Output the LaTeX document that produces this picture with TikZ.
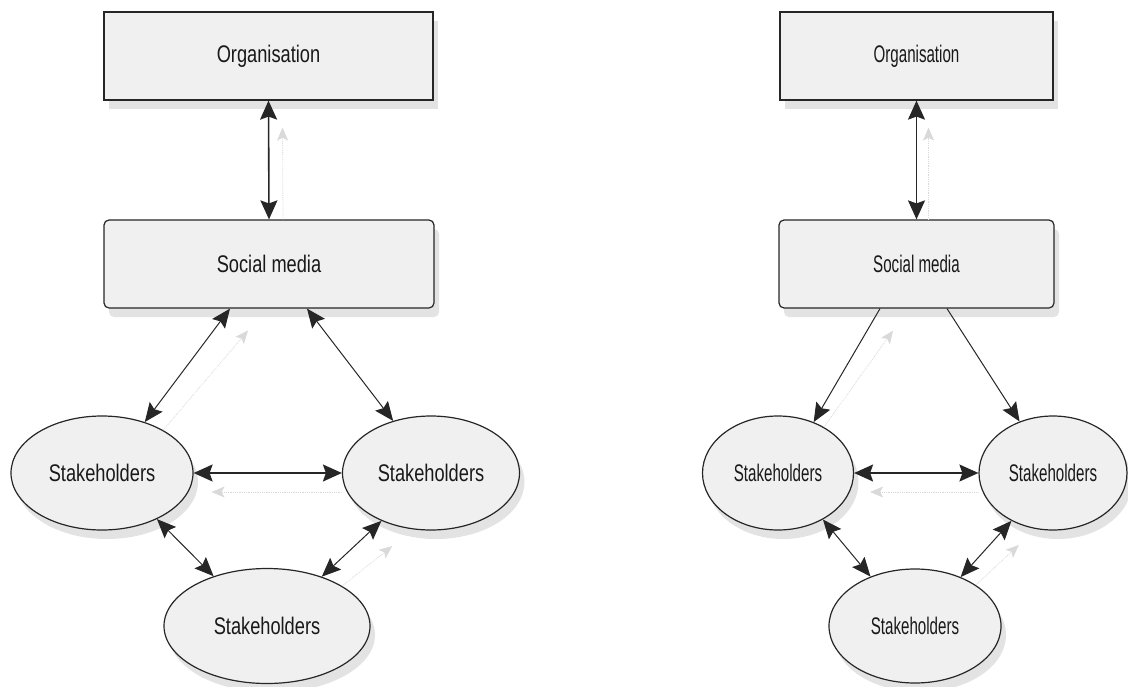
\documentclass[tikz,border=0pt]{standalone}
\usepackage{fontspec}
\setmainfont{Liberation Sans}
\newfontfamily\leftfont[FakeStretch=0.76]{Liberation Sans}
\newfontfamily\rightfont[FakeStretch=0.63]{Liberation Sans}
\usepackage{tikz}
\usetikzlibrary{arrows.meta,shapes.geometric,shadows}

\begin{document}
\begin{tikzpicture}[x=1pt,y=-1pt,
		box/.style={draw=black!85,line width=1.2pt,fill=black!6,text=black!90,
			drop shadow={shadow xshift=5pt,shadow yshift=-9pt,opacity=0.18,fill=black!60}},
		blob/.style={box,ellipse,inner sep=0pt},
		link/.style={{Stealth[length=19pt,width=16pt,inset=3pt]}-{Stealth[length=19pt,width=16pt,inset=3pt]},line width=1pt,black!85},
		thick link/.style={{Stealth[length=19pt,width=17pt,inset=3pt]}-{Stealth[length=19pt,width=17pt,inset=3pt]},line width=1.6pt,black!85},
		one way/.style={-{Stealth[length=19pt,width=16pt,inset=3pt]},line width=1pt,black!85},
		ghost/.style={-{Stealth[length=13pt,width=11pt,inset=3pt]},densely dotted,line width=0.8pt,black!15}]
		\useasboundingbox (0,0) rectangle (1128,686);
		
		% left diagram
		\node[box,minimum width=329pt,minimum height=88pt,font=\fontsize{24}{26}\leftfont] (org1) at (268.5,56) {Organisation};
		\node[box,rounded corners=5pt,minimum width=330pt,minimum height=88pt,font=\fontsize{24}{26}\leftfont] (sm1) at (269,264) {Social media};
		\node[blob,minimum width=182pt,minimum height=114pt,font=\fontsize{24}{26}\leftfont] (sl1) at (102,473) {Stakeholders};
		\node[blob,minimum width=177pt,minimum height=114pt,font=\fontsize{24}{26}\leftfont] (sr1) at (431,473) {Stakeholders};
		\node[blob,minimum width=206pt,minimum height=115pt,font=\fontsize{24}{26}\leftfont] (sb1) at (267,626) {Stakeholders};
		
		\draw[ghost] ([xshift=14pt]sm1.north) -- ([xshift=14pt,yshift=-27pt]org1.south);
		\draw[ghost] (sl1.35) -- ([xshift=-21pt,yshift=-22pt]sm1.south);
		\draw[ghost] ([yshift=-19pt]sr1.west) -- ([xshift=18pt,yshift=-19pt]sl1.east);
		\draw[ghost] (sb1.28) -- ++(50,-40);
		
		\draw[thick link] (org1.south) -- (sm1.north);
		\draw[link] ([xshift=-39pt]sm1.south) -- (sl1.50);
		\draw[link] ([xshift=38pt]sm1.south) -- (sr1.126);
		\draw[thick link] (sl1.east) -- (sr1.west);
		\draw[link] (sl1.-40) -- (sb1.137);
		\draw[link] (sr1.-136) -- (sb1.42);
		
		% right diagram
		\node[box,minimum width=273pt,minimum height=88pt,font=\fontsize{24}{26}\rightfont] (org2) at (916.5,56) {Organisation};
		\node[box,rounded corners=5pt,minimum width=275pt,minimum height=88pt,font=\fontsize{24}{26}\rightfont] (sm2) at (916.5,264) {Social media};
		\node[blob,minimum width=151pt,minimum height=114pt,font=\fontsize{24}{26}\rightfont] (sl2) at (778,473) {Stakeholders};
		\node[blob,minimum width=148pt,minimum height=114pt,font=\fontsize{24}{26}\rightfont] (sr2) at (1053,473) {Stakeholders};
		\node[blob,minimum width=172pt,minimum height=114pt,font=\fontsize{24}{26}\rightfont] (sb2) at (915,626) {Stakeholders};
		
		\draw[ghost] ([xshift=12pt]sm2.north) -- ([xshift=12pt,yshift=-27pt]org2.south);
		\draw[ghost] (sl2.45) -- ([xshift=-23.5pt,yshift=-22pt]sm2.south);
		\draw[ghost] ([yshift=-19pt]sr2.west) -- ([xshift=16pt,yshift=-19pt]sl2.east);
		\draw[ghost] (sb2.34) -- ++(43,-40);
		
		\draw[thick link] (org2.south) -- (sm2.north);
		\draw[one way] ([xshift=-36.5pt]sm2.south) -- (sl2.55);
		\draw[one way] ([xshift=30.5pt]sm2.south) -- (sr2.123);
		\draw[thick link] (sl2.east) -- (sr2.west);
		\draw[link] (sl2.-46) -- (sb2.132);
		\draw[link] (sr2.-131) -- (sb2.47);
		
	\end{tikzpicture}
\end{document}
